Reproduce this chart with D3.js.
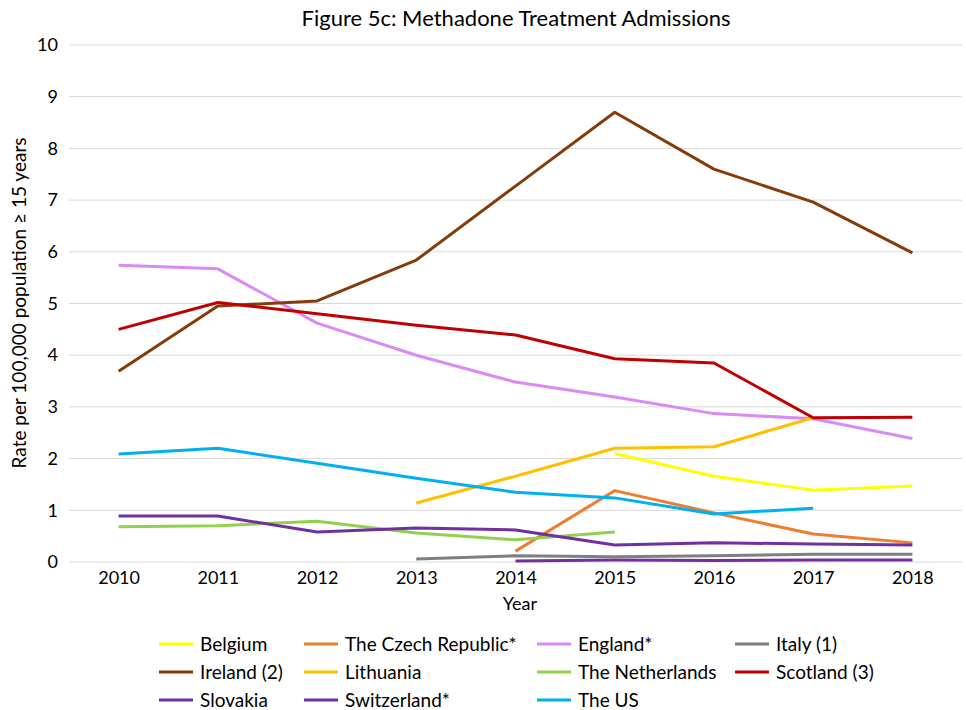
<!DOCTYPE html>
<html><head><meta charset="utf-8">
<script src="https://cdn.jsdelivr.net/npm/d3@7"></script>
<style>body{margin:0;background:#fff}svg{display:block;font-family:Lato,"Open Sans",sans-serif}</style>
</head><body>
<svg id="c" width="966" height="710"></svg>
<script>
const years = [2010,2011,2012,2013,2014,2015,2016,2017,2018];
const yTicks = [0,1,2,3,4,5,6,7,8,9,10];
const seriesNames = ["Belgium","The Czech Republic*","England*","Italy (1)","Ireland (2)","Lithuania","The Netherlands","Scotland (3)","Slovakia","Switzerland*","The US"];
const seriesColors = ["#FFFF00","#ED7D31","#DA8AF5","#7F7F7F","#843C0C","#FFC000","#92D050","#C00000","#7030A0","#7030A0","#00B0F0"];
const belgium     = [null,null,null,null,null,2.10,1.66,1.39,1.47];
const czech       = [null,null,null,null,0.21,1.38,0.95,0.54,0.37];
const england     = [5.74,5.67,4.62,4.00,3.48,3.19,2.87,2.77,2.39];
const italy       = [null,null,null,0.06,0.12,0.10,0.12,0.15,0.15];
const ireland     = [3.69,4.95,5.05,5.84,7.27,8.70,7.60,6.96,5.98];
const lithuania   = [null,null,null,1.14,1.66,2.20,2.23,2.79,null];
const netherlands = [0.68,0.70,0.79,0.56,0.43,0.58,null,null,null];
const scotland    = [4.50,5.02,4.80,4.58,4.39,3.93,3.85,2.79,2.80];
const slovakia    = [0.89,0.89,0.58,0.66,0.62,0.33,0.37,0.35,0.33];
const switzerland = [null,null,null,null,0.02,0.04,0.03,0.04,0.04];
const us          = [2.09,2.20,1.91,1.62,1.35,1.24,0.93,1.04,null];
const seriesValues = [belgium,czech,england,italy,ireland,lithuania,netherlands,scotland,slovakia,switzerland,us];

const svg = d3.select("#c");
const L = 69, R = 962, T = 45, B = 562;
const x = d3.scalePoint().domain(years).range([L,R]).padding(0.5);
const y = d3.scaleLinear().domain([0,10]).range([B,T]);
const FF = "Lato,'Open Sans',sans-serif";

// gridlines
svg.append("g").selectAll("line").data(yTicks).join("line")
  .attr("x1",L).attr("x2",R).attr("y1",d=>y(d)).attr("y2",d=>y(d))
  .attr("stroke","#D9D9D9").attr("stroke-width",1);

// y axis labels
const ya = svg.append("g").attr("transform",`translate(${L-11},0)`)
  .call(d3.axisLeft(y).tickValues(yTicks).tickSize(0).tickPadding(0));
ya.select(".domain").remove();
ya.selectAll("text").attr("font-size",18).attr("fill","#000").attr("font-family",FF);

// x axis labels
const xa = svg.append("g").attr("transform",`translate(0,${B+8})`)
  .call(d3.axisBottom(x).tickSize(0).tickPadding(0).tickFormat(d3.format("d")));
xa.select(".domain").remove();
xa.selectAll("text").attr("font-size",18).attr("fill","#000").attr("dy","0.8em").attr("font-family",FF);

// title
svg.append("text").attr("x",516).attr("y",26).attr("text-anchor","middle")
  .attr("font-size",22).text("Figure 5c: Methadone Treatment Admissions");
svg.append("text").attr("x",520).attr("y",610).attr("text-anchor","middle")
  .attr("font-size",18).text("Year");
svg.append("text").attr("transform","translate(26,303) rotate(-90)").attr("text-anchor","middle")
  .attr("font-size",19).text("Rate per 100,000 population ≥ 15 years");

// lines
const line = d3.line().defined(d=>d.v!=null).x(d=>x(d.yr)).y(d=>y(d.v));
seriesValues.forEach((vals,i)=>{
  const pts = years.map((yr,j)=>({yr, v: vals[j]}));
  svg.append("path").datum(pts).attr("d",line).attr("fill","none")
    .attr("stroke",seriesColors[i]).attr("stroke-width",3).attr("stroke-linejoin","round");
});

// legend
const colX = [159,304,537,735];
const rowY = [644,672,700];
const lg = svg.append("g");
seriesNames.forEach((n,i)=>{
  const c = i%4, r = Math.floor(i/4);
  const g = lg.append("g").attr("transform",`translate(${colX[c]},${rowY[r]})`);
  g.append("line").attr("x1",0).attr("x2",34).attr("y1",0).attr("y2",0)
    .attr("stroke",seriesColors[i]).attr("stroke-width",3);
  g.append("text").attr("x",41).attr("y",0).attr("dy","0.35em").attr("font-size",19).text(n);
});
</script>
</body></html>
